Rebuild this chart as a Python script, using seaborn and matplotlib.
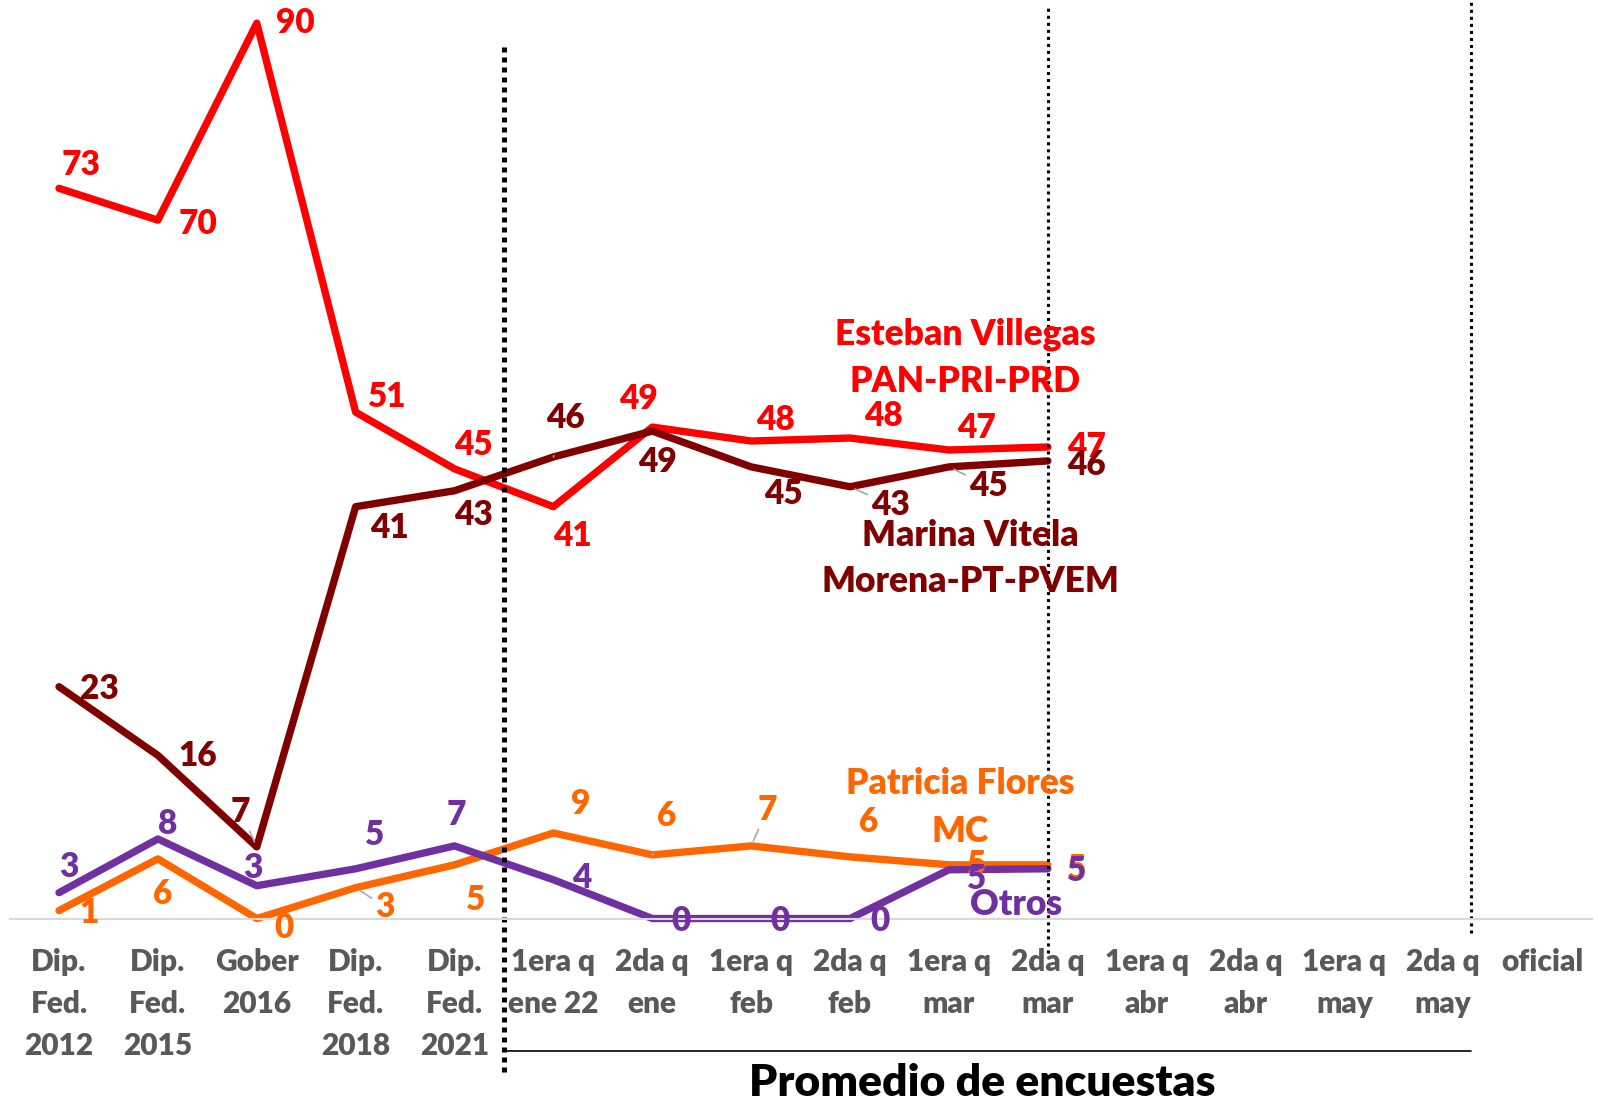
import matplotlib
matplotlib.use("Agg")
import matplotlib.pyplot as plt
import seaborn as sns
import numpy as np
import pandas as pd

categorias = ["Dip.\nFed.\n2012", "Dip.\nFed.\n2015", "Gober\n2016", "Dip.\nFed.\n2018",
              "Dip.\nFed.\n2021", "1era q\nene 22", "2da q\nene", "1era q\nfeb", "2da q\nfeb",
              "1era q\nmar", "2da q\nmar", "1era q\nabr", "2da q\nabr", "1era q\nmay",
              "2da q\nmay", "oficial"]

villegas = [73.4, 70.2, 90.0, 50.9, 45.2, 41.4, 49.4, 48.0, 48.3, 47.1, 47.4]
vitela = [23.3, 16.4, 7.2, 41.4, 43.0, 46.4, 49.0, 45.4, 43.4, 45.4, 46.0]
flores = [0.8, 6.0, 0.0, 3.1, 5.4, 8.6, 6.4, 7.3, 6.2, 5.4, 5.4]
otros = [2.6, 8.0, 3.3, 5.0, 7.3, 3.9, 0.0, 0.0, 0.0, 4.9, 5.0]

series = ["Patricia Flores", "Otros", "Esteban Villegas", "Marina Vitela"]
colores = {"Esteban Villegas": "#FF0000", "Marina Vitela": "#800000",
           "Patricia Flores": "#FF6600", "Otros": "#7030A0"}

valores = {"Esteban Villegas": villegas, "Marina Vitela": vitela,
           "Patricia Flores": flores, "Otros": otros}

# offsets de las etiquetas (pixeles)
offsets = {
    "Esteban Villegas": [(22, 23), (40, -4), (39, 0), (32, 15), (19, 24), (19, -29),
                         (-14, 28), (24, 21), (33, 22), (28, 22), (39, 0)],
    "Marina Vitela": [(40, -2), (40, -1), (-16, 35), (34, -21), (19, -24), (12, 39),
                      (5, -31), (32, -27), (40, -18), (39, -19), (39, -4)],
    "Patricia Flores": [(30, -2), (5, -35), (27, -9), (29, -19), (21, -35), (27, 29),
                        (14, 39), (16, 36), (19, 35), (28, 0), (29, -4)],
    "Otros": [(10, 26), (10, 15), (-4, 18), (19, 34), (2, 31), (28, 2), (29, -2),
              (29, -2), (30, -2), (28, -9), (29, -2)],
}
lideres = {("Marina Vitela", 5), ("Marina Vitela", 8), ("Marina Vitela", 9),
           ("Marina Vitela", 2), ("Patricia Flores", 3), ("Patricia Flores", 6),
           ("Patricia Flores", 7)}

filas = []
for s in series:
    for i, v in enumerate(valores[s]):
        filas.append({"x": i, "valor": v, "serie": s})
df = pd.DataFrame(filas)

sns.set_theme(style="white")
plt.rcParams["font.family"] = ["Lato", "DejaVu Sans"]
peso = "heavy"

fig = plt.figure(figsize=(15.98, 11.04), dpi=100)
ax = fig.add_axes([0.006, 0.168, 0.990, 0.811])

sns.lineplot(data=df, x="x", y="valor", hue="serie", hue_order=series,
             palette=colores, linewidth=5.3, legend=False, ax=ax, clip_on=False)

for s in series:
    for i, v in enumerate(valores[s]):
        dx, dy = offsets[s][i]
        kw = {}
        if (s, i) in lideres:
            kw["arrowprops"] = dict(arrowstyle="-", color="#a6a6a6", lw=1.2,
                                    shrinkA=14, shrinkB=4)
        ax.annotate(f"{v:.0f}", (i, v), xytext=(dx, dy), textcoords="offset pixels",
                    ha="center", va="center", fontsize=24, fontweight=peso,
                    color=colores[s], annotation_clip=False, **kw)

ax.set_xlim(-0.5, 15.5)
ax.set_ylim(0, 90)
ax.set_xticks(range(len(categorias)))
ax.set_xticklabels(categorias, fontsize=21.5, fontweight=peso, color="#595959",
                   linespacing=1.62)
ax.tick_params(axis="x", length=0, pad=21)
ax.set_yticks([])
ax.set_xlabel("")
ax.set_ylabel("")
for lado in ["left", "top", "right"]:
    ax.spines[lado].set_visible(False)
ax.spines["bottom"].set_color("#d9d9d9")
ax.spines["bottom"].set_linewidth(1.5)

# lineas punteadas
ax.axvline(4.5, ymin=-0.171, ymax=0.974, color="black", lw=3.6,
           linestyle=(0, (1, 1)), clip_on=False, dash_capstyle="butt")
ax.axvline(10, ymin=-0.0385, ymax=1.017, color="black", lw=2.2,
           linestyle=(0, (1, 1.3)), clip_on=False)
ax.axvline(14.28, ymin=-0.016, ymax=1.026, color="black", lw=2.2,
           linestyle=(0, (1, 1.3)), clip_on=False)
ax.plot([4.5, 14.28], [-0.148, -0.148], color="black", lw=1.2,
        transform=ax.get_xaxis_transform(), clip_on=False)

fig.text(0.6145, 0.019, "Promedio de encuestas", ha="center", va="center",
         fontsize=32, fontweight=peso, color="black")

nombres = [("Esteban Villegas", 0.604, 0.697, "Esteban Villegas"),
           ("PAN-PRI-PRD", 0.604, 0.654, "Esteban Villegas"),
           ("Marina Vitela", 0.607, 0.515, "Marina Vitela"),
           ("Morena-PT-PVEM", 0.607, 0.473, "Marina Vitela"),
           ("Patricia Flores", 0.601, 0.290, "Patricia Flores"),
           ("MC", 0.601, 0.247, "Patricia Flores"),
           ("Otros", 0.636, 0.181, "Otros")]
for texto, x, y, s in nombres:
    fig.text(x, y, texto, ha="center", va="center", fontsize=25.5,
             fontweight=peso, color=colores[s])

fig.savefig("out.png", dpi=100)
